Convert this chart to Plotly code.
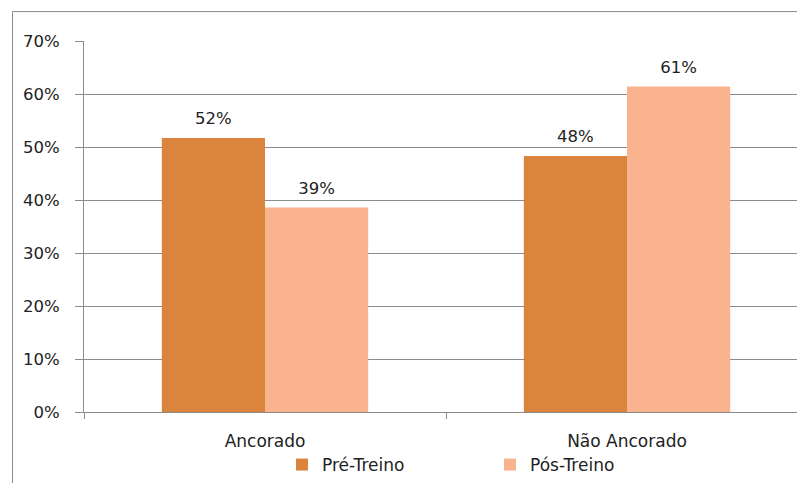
import plotly.graph_objects as go

categories = ["Ancorado", "Não Ancorado"]
pre_treino = [51.7, 48.3]
pos_treino = [38.6, 61.4]
series_names = ["Pré-Treino", "Pós-Treino"]
colors = ["#DA843E", "#F9B48F"]

W, H = 797, 483
L, R, T, B = 84, 0, 41, 70
pw, ph = W - L - R, H - T - B

def px_x(p):
    return (p - L) / pw

def px_y(p):
    return (H - B - p) / ph

font = dict(family="DejaVu Sans", size=17, color="#222222")
numfont = dict(family="DejaVu Sans", size=16.5, color="#222222")

fig = go.Figure()
for name, vals, col in zip(series_names, [pre_treino, pos_treino], colors):
    fig.add_trace(go.Bar(
        x=categories, y=vals, name=name, marker=dict(color=col, line=dict(width=0)),
    ))
for name, vals in zip(series_names, [pre_treino, pos_treino]):
    fig.add_trace(go.Scatter(
        x=categories, y=vals, mode="markers+text", showlegend=False,
        marker=dict(size=14, opacity=0), text=[f"{round(v)}%" for v in vals],
        textposition="top center", textfont=numfont, cliponaxis=False,
        hoverinfo="skip", name=name + " rótulo",
    ))

cat_px = 362.0
fig.update_layout(
    width=W, height=H,
    margin=dict(l=L, r=R, t=T, b=B),
    paper_bgcolor="white", plot_bgcolor="white",
    font=font,
    barmode="group", bargap=0.43, bargroupgap=0,
    scattermode="group", scattergap=0.43,
    xaxis=dict(
        type="category", range=[-0.5, -0.5 + pw / cat_px],
        showline=True, linecolor="#8c8c8c", linewidth=1,
        ticks="outside", ticklen=6, tickcolor="#8c8c8c", tickson="boundaries",
        showgrid=False, tickfont=font, ticklabelstandoff=14,
    ),
    yaxis=dict(
        range=[0, 70], dtick=10, ticksuffix="%",
        showline=True, linecolor="#8c8c8c", linewidth=1,
        ticks="outside", ticklen=8, tickcolor="#8c8c8c",
        showgrid=True, gridcolor="#8c8c8c", gridwidth=1,
        zeroline=False, tickfont=numfont, ticklabelstandoff=12,
    ),
    legend=dict(
        orientation="h", x=px_x(282), y=px_y(466), xanchor="left", yanchor="middle",
        font=font, itemwidth=30, entrywidth=163, entrywidthmode="pixels",
        bgcolor="rgba(0,0,0,0)", traceorder="normal",
    ),
    shapes=[dict(
        type="rect", xref="paper", yref="paper",
        x0=px_x(12.5), x1=px_x(820), y0=px_y(520), y1=px_y(11.5),
        line=dict(color="#8c8c8c", width=1), fillcolor="rgba(0,0,0,0)", layer="below",
    )],
    showlegend=True,
)

fig.write_html("out.html")
